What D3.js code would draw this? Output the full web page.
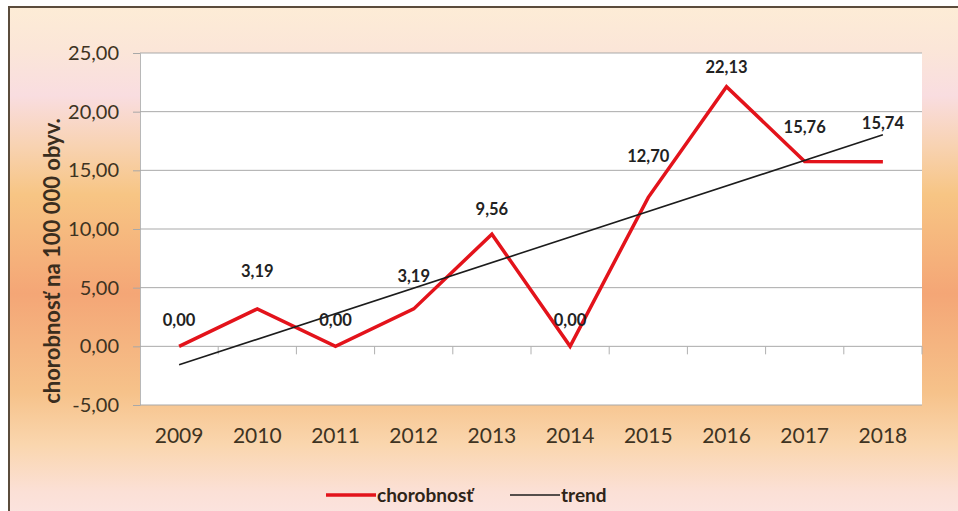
<!DOCTYPE html>
<html>
<head>
<meta charset="utf-8">
<script src="https://cdn.jsdelivr.net/npm/d3@7"></script>
<style>
  html, body { margin: 0; padding: 0; background: #ffffff; }
  svg { display: block; font-family: Lato, "Open Sans", sans-serif; }
</style>
</head>
<body>
<svg id="chart" width="958" height="511"></svg>
<script>
// Incidence per 100 000 inhabitants, 2009–2018
const years = ["2009", "2010", "2011", "2012", "2013", "2014", "2015", "2016", "2017", "2018"];
const incidence = [0.00, 3.19, 0.00, 3.19, 9.56, 0.00, 12.70, 22.13, 15.76, 15.74];
const yTicks = [-5, 0, 5, 10, 15, 20, 25];
const seriesNames = ["chorobnosť", "trend"];

// per-label vertical nudge (px above the point) for the value labels
const labelLift = [26, 38, 26, 33, 25, 26, 41, 19, 34, 38];

const fmt = v => d3.format(".2f")(v).replace(".", ",").replace("\u2212", "-");

const svg = d3.select("#chart");
const W = 958, H = 511;

// background gradient of the chart frame
const defs = svg.append("defs");
const grad = defs.append("linearGradient")
  .attr("id", "frameFill").attr("x1", 0).attr("y1", 0).attr("x2", 0).attr("y2", 1);
[
  [0.00, "#fdecd6"],
  [0.08, "#fbe6d8"],
  [0.17, "#f9dde0"],
  [0.27, "#f8d2b0"],
  [0.36, "#f7c584"],
  [0.55, "#f4a676"],
  [0.74, "#f6c28a"],
  [0.84, "#fad6ae"],
  [0.93, "#fbe0d6"],
  [1.00, "#fbe5e4"]
].forEach(([o, c]) => grad.append("stop").attr("offset", o).attr("stop-color", c));

svg.append("rect").attr("width", W).attr("height", H).attr("fill", "#ffffff");
svg.append("rect")
  .attr("x", 9).attr("y", 7).attr("width", W + 10).attr("height", H + 10)
  .attr("fill", "url(#frameFill)")
  .attr("stroke", "#5b4c3c").attr("stroke-width", 2);

const plot = { left: 140, top: 53, right: 922, bottom: 405 };

const x = d3.scaleBand().domain(years).range([plot.left, plot.right]);
const y = d3.scaleLinear().domain([-5, 25]).range([plot.bottom, plot.top]);

// plot area
svg.append("rect")
  .attr("x", plot.left).attr("y", plot.top)
  .attr("width", plot.right - plot.left).attr("height", plot.bottom - plot.top)
  .attr("fill", "#ffffff");

// value axis with its tick labels
const yAxis = d3.axisLeft(y).tickValues(yTicks).tickSize(7).tickPadding(14).tickFormat(fmt);
const gy = svg.append("g").attr("transform", `translate(${plot.left},0)`).call(yAxis);
gy.select(".domain").attr("stroke", "#b8b8b8");
gy.selectAll(".tick line").attr("stroke", "#a8a8a8");
gy.selectAll(".tick text")
  .attr("fill", "#3e3322").attr("font-size", 20).attr("font-family", "Lato, sans-serif");

// horizontal gridlines
svg.append("g").selectAll("line").data(yTicks).join("line")
  .attr("x1", plot.left).attr("x2", plot.right)
  .attr("y1", d => y(d)).attr("y2", d => y(d))
  .attr("stroke", "#a9a9a9").attr("stroke-width", 1);

// category tick marks on the zero line, between categories
const gx = svg.append("g").attr("transform", `translate(0,${y(0)})`);
gx.selectAll("line").data(years).join("line")
  .attr("x1", d => x(d) + x.bandwidth())
  .attr("x2", d => x(d) + x.bandwidth())
  .attr("y1", 0).attr("y2", 8)
  .attr("stroke", "#b0b0b0");

// category labels below the plot
svg.append("g").selectAll("text").data(years).join("text")
  .attr("x", d => x(d) + x.bandwidth() / 2)
  .attr("y", 443)
  .attr("text-anchor", "middle")
  .attr("fill", "#3e3322").attr("font-size", 21)
  .text(d => d);

// linear trend (least squares over the series)
const idx = d3.range(incidence.length);
const mx = d3.mean(idx), my = d3.mean(incidence);
const slope = d3.sum(idx, i => (i - mx) * (incidence[i] - my)) / d3.sum(idx, i => (i - mx) ** 2);
const icpt = my - slope * mx;
const trendEnds = [0, incidence.length - 1].map(i => ({ year: years[i], v: icpt + slope * i }));

const line = d3.line().x(d => x(d.year) + x.bandwidth() / 2).y(d => y(d.v));
const pts = years.map((yr, i) => ({ year: yr, v: incidence[i] }));

svg.append("path").datum(pts).attr("d", line)
  .attr("fill", "none").attr("stroke", "#e3131b").attr("stroke-width", 3.5)
  .attr("stroke-linejoin", "miter");

svg.append("path").datum(trendEnds).attr("d", line)
  .attr("fill", "none").attr("stroke", "#1c1c1c").attr("stroke-width", 1.6);

// value labels
svg.append("g").selectAll("text").data(pts).join("text")
  .attr("x", d => x(d.year) + x.bandwidth() / 2)
  .attr("y", (d, i) => y(d.v) - labelLift[i])
  .attr("dy", "0.35em")
  .attr("text-anchor", "middle")
  .attr("font-weight", "bold").attr("font-size", 16.5).attr("fill", "#222222")
  .text(d => fmt(d.v));

// y axis title
svg.append("text")
  .attr("transform", `translate(52,261) rotate(-90)`)
  .attr("text-anchor", "middle")
  .attr("dy", "0.35em")
  .attr("font-weight", "bold").attr("font-size", 22).attr("fill", "#3a2d1e")
  .text("chorobnosť na 100 000 obyv.");

// legend
const legend = svg.append("g");
const legItems = [
  { name: seriesNames[0], color: "#e3131b", w: 3.5, x0: 326 },
  { name: seriesNames[1], color: "#1c1c1c", w: 1.6, x0: 510 }
];
legItems.forEach(it => {
  legend.append("line")
    .attr("x1", it.x0).attr("x2", it.x0 + 50).attr("y1", 495).attr("y2", 495)
    .attr("stroke", it.color).attr("stroke-width", it.w);
  legend.append("text")
    .attr("x", it.x0 + 51).attr("y", 495).attr("dy", "0.35em")
    .attr("font-weight", "bold").attr("font-size", 19).attr("fill", "#2e2418")
    .text(it.name);
});
</script>
</body>
</html>
